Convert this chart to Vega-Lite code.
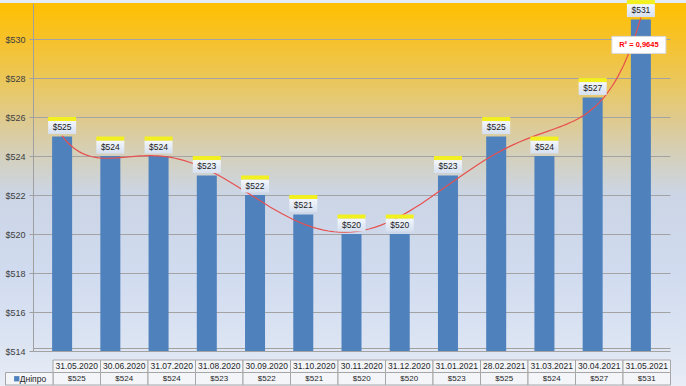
{
  "$schema": "https://vega.github.io/schema/vega-lite/v6.json",
  "width": 686,
  "height": 386,
  "autosize": {"type": "fit", "contains": "padding"},
  "padding": 0,
  "background": "#e6ecf5",
  "config": {
    "font": "Liberation Sans",
    "view": {
      "stroke": null,
      "fill": {
        "gradient": "linear", "x1": 0, "y1": 0, "x2": 0, "y2": 1,
        "stops": [
          {"offset": 0, "color": "#ffc000"},
          {"offset": 0.1, "color": "#f6c22c"},
          {"offset": 0.2, "color": "#ebc75a"},
          {"offset": 0.3, "color": "#dfca8c"},
          {"offset": 0.4, "color": "#d4d0bc"},
          {"offset": 0.5, "color": "#cbd5e5"},
          {"offset": 0.7, "color": "#d0dbef"},
          {"offset": 0.9, "color": "#dde5f3"},
          {"offset": 1, "color": "#e8edf6"}
        ]
      }
    }
  },
  "datasets": {
    "bars": [
      {"i": 0, "date": "31.05.2020", "v": 525},
      {"i": 1, "date": "30.06.2020", "v": 524},
      {"i": 2, "date": "31.07.2020", "v": 524},
      {"i": 3, "date": "31.08.2020", "v": 523},
      {"i": 4, "date": "30.09.2020", "v": 522},
      {"i": 5, "date": "31.10.2020", "v": 521},
      {"i": 6, "date": "30.11.2020", "v": 520},
      {"i": 7, "date": "31.12.2020", "v": 520},
      {"i": 8, "date": "31.01.2021", "v": 523},
      {"i": 9, "date": "28.02.2021", "v": 525},
      {"i": 10, "date": "31.03.2021", "v": 524},
      {"i": 11, "date": "30.04.2021", "v": 527},
      {"i": 12, "date": "31.05.2021", "v": 531}
    ]
  },
  "layer": [
    {
      "data": {"name": "bars"},
      "encoding": {
        "x": {
          "field": "i", "type": "quantitative",
          "scale": {"domain": [-0.5, 12.5], "range": [33, 670], "nice": false, "zero": false},
          "axis": {"orient": "bottom", "offset": -38, "labels": false, "ticks": false, "grid": false, "domainColor": "#a0a0a0", "title": null}
        },
        "y": {
          "field": "v", "type": "quantitative",
          "scale": {"domain": [514, 531.85], "range": [348, 0], "nice": false, "zero": false},
          "axis": {
            "orient": "left", "offset": -33, "title": null,
            "values": [514, 516, 518, 520, 522, 524, 526, 528, 530],
            "format": "$d", "grid": true, "gridColor": "#a3a3a3", "gridWidth": 1,
            "tickSize": 4, "tickColor": "#a0a0a0", "domainColor": "#a0a0a0",
            "labelFontSize": 9, "labelColor": "#404040", "labelPadding": 4
          }
        }
      },
      "layer": [
        {
          "mark": {"type": "bar", "orient": "vertical", "width": 20, "color": "#4f81bd"},
          "encoding": {"y2": {"datum": 514}}
        },
        {
          "transform": [{"regression": "v", "on": "i", "method": "poly", "order": 6, "extent": [0, 12]}],
          "mark": {"type": "line", "color": "#e8504f", "strokeWidth": 1.2}
        },
        {
          "mark": {
            "type": "rect", "width": 28, "height": 13, "yOffset": -9,
            "fill": {
              "gradient": "linear", "x1": 0, "y1": 0, "x2": 0, "y2": 1,
              "stops": [{"offset": 0, "color": "#f4f7fc"}, {"offset": 1, "color": "#d6e0f0"}]
            }
          }
        },
        {
          "mark": {"type": "rect", "width": 28, "height": 4, "yOffset": -17.5, "fill": "#f2f01e"}
        },
        {
          "mark": {"type": "text", "fontSize": 8.5, "color": "#1a1a1a", "dy": -9.5, "baseline": "middle"},
          "encoding": {"text": {"field": "v", "type": "quantitative", "format": "$d"}}
        },
        {
          "data": {"values": [{"i": 12, "v": 529.7, "t": "R² = 0,9645"}]},
          "mark": {"type": "rect", "width": 54, "height": 17, "xOffset": -2, "fill": "#ffffff", "stroke": "#d9d9d9"}
        },
        {
          "data": {"values": [{"i": 12, "v": 529.7, "t": "R² = 0,9645"}]},
          "mark": {"type": "text", "fontSize": 7.5, "fontWeight": "bold", "color": "#ff0000", "xOffset": -2, "baseline": "middle"},
          "encoding": {"text": {"field": "t"}}
        }
      ]
    },
    {
      "encoding": {
        "x": {
          "field": "date", "type": "nominal",
          "scale": {
            "domain": ["label", "31.05.2020", "30.06.2020", "31.07.2020", "31.08.2020", "30.09.2020", "31.10.2020", "30.11.2020", "31.12.2020", "31.01.2021", "28.02.2021", "31.03.2021", "30.04.2021", "31.05.2021"],
            "range": [5.5, 670.5], "paddingInner": 0, "paddingOuter": 0
          },
          "axis": null
        }
      },
      "layer": [
        {
          "data": {"name": "bars"},
          "mark": {"type": "rect", "fill": "#f3f5f9", "stroke": "#a6a6a6", "strokeWidth": 1},
          "encoding": {"y": {"datum": "h", "type": "nominal", "scale": {"domain": ["h", "v"], "range": [357, 382], "paddingInner": 0, "paddingOuter": 0}, "axis": null}}
        },
        {
          "data": {"name": "bars"},
          "mark": {"type": "rect", "fill": "#f3f5f9", "stroke": "#a6a6a6", "strokeWidth": 1},
          "encoding": {"y": {"datum": "v", "type": "nominal", "axis": null}}
        },
        {
          "data": {"values": [{"date": "label", "t": "Дніпро"}]},
          "mark": {"type": "rect", "fill": "#f3f5f9", "stroke": "#a6a6a6", "strokeWidth": 1},
          "encoding": {"y": {"datum": "v", "type": "nominal", "axis": null}}
        },
        {
          "data": {"name": "bars"},
          "mark": {"type": "text", "fontSize": 8.5, "color": "#262626", "baseline": "middle"},
          "encoding": {
            "y": {"datum": "h", "type": "nominal", "axis": null},
            "text": {"field": "date"}
          }
        },
        {
          "data": {"name": "bars"},
          "mark": {"type": "text", "fontSize": 8, "color": "#262626", "baseline": "middle"},
          "encoding": {
            "y": {"datum": "v", "type": "nominal", "axis": null},
            "text": {"field": "v", "type": "quantitative", "format": "$d"}
          }
        },
        {
          "data": {"values": [{"date": "label", "t": "Дніпро"}]},
          "mark": {"type": "square", "size": 28, "filled": true, "color": "#4f81bd", "opacity": 1, "xOffset": -12.5},
          "encoding": {"y": {"datum": "v", "type": "nominal", "axis": null}}
        },
        {
          "data": {"values": [{"date": "label", "t": "Дніпро"}]},
          "mark": {"type": "text", "fontSize": 8.5, "color": "#262626", "baseline": "middle", "align": "left", "dx": -9.5},
          "encoding": {
            "y": {"datum": "v", "type": "nominal", "axis": null},
            "text": {"field": "t"}
          }
        }
      ]
    }
  ],
  "resolve": {"scale": {"x": "independent", "y": "independent"}}
}
